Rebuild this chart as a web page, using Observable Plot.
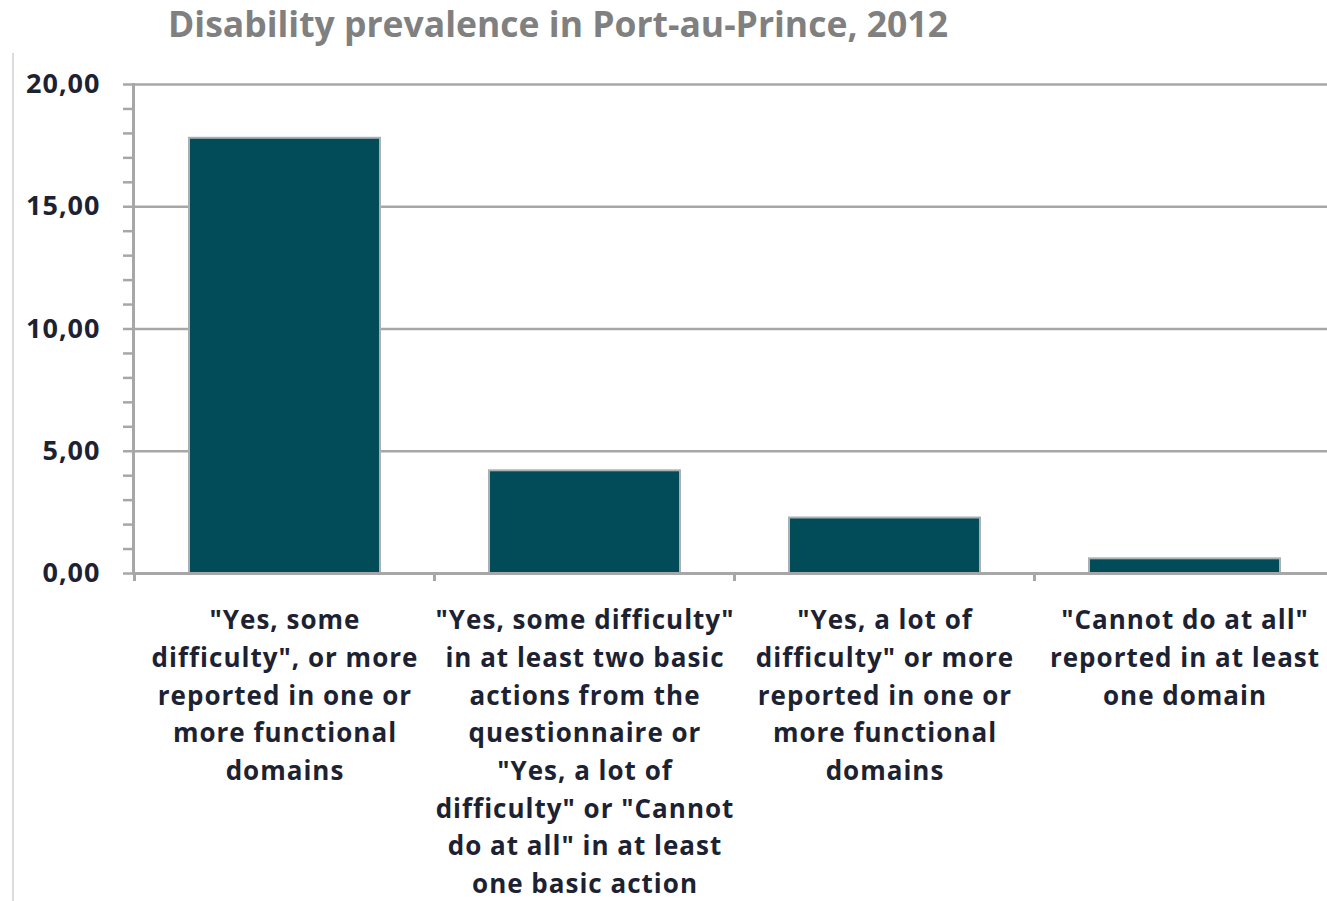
<!DOCTYPE html>
<html>
<head>
<meta charset="utf-8">
<script src="https://cdn.jsdelivr.net/npm/d3@7"></script>
<script src="https://cdn.jsdelivr.net/npm/@observablehq/plot@0.6"></script>
<style>
  html, body { margin: 0; padding: 0; background: #fff; overflow: hidden; }
  #wrap { position: relative; width: 1327px; height: 901px; }
  #title { position: absolute; left: 0; top: 0; width: 1116px; height: 55px; text-align: center;
           font-family: "Open Sans", sans-serif; font-weight: 700; font-size: 35.5px; color: #808080; line-height: 46px; white-space: nowrap; }
  #leftline { position: absolute; left: 12px; top: 53px; width: 2px; height: 848px; background: #dcdcdc; }
  #chart { position: absolute; left: 0; top: 55px; }
</style>
</head>
<body>
<div id="wrap">
  <div id="title">Disability prevalence in Port-au-Prince, 2012</div>
  <div id="leftline"></div>
  <div id="chart"></div>
</div>
<script>
// Category labels (line-broken as in the original)
const categoryLines = [
  ["\"Yes, some", "difficulty\", or more", "reported in one or", "more functional", "domains"],
  ["\"Yes, some difficulty\"", "in at least two basic", "actions from the", "questionnaire or", "\"Yes, a lot of", "difficulty\" or \"Cannot", "do at all\" in at least", "one basic action"],
  ["\"Yes, a lot of", "difficulty\" or more", "reported in one or", "more functional", "domains"],
  ["\"Cannot do at all\"", "reported in at least", "one domain"]
];
const categories = categoryLines.map(l => l.join(" "));
const prevalence = [17.8, 4.2, 2.27, 0.6];
const yTicks = [0, 5, 10, 15, 20];
const yTickLabels = ["0,00", "5,00", "10,00", "15,00", "20,00"];
const yMinorTicks = d3.range(0, 21, 1);

const data = categories.map((c, i) => ({category: c, value: prevalence[i]}));
const labelOf = new Map(categories.map((c, i) => [c, categoryLines[i].join("\n")]));
const yLabelOf = new Map(yTicks.map((t, i) => [t, yTickLabels[i]]));

const W = 1327, H = 846;
const grey = "#a7a7a7";
const ink = "#1d2232";

const chart = Plot.plot({
  width: W,
  height: H,
  marginLeft: 133,
  marginRight: 0,
  marginTop: 29,
  marginBottom: 328,
  style: {fontFamily: "'Open Sans', sans-serif", background: "transparent", overflow: "visible"},
  x: {domain: categories, range: [133, 1336], paddingInner: 0.365, paddingOuter: 0.1825, label: null},
  y: {domain: [0, 20], label: null},
  marks: [
    Plot.ruleY(yTicks, {stroke: grey, strokeWidth: 2.5}),
    Plot.barY(data, {x: "category", y: "value", fill: "#014c58", stroke: "#a9b0b2", strokeWidth: 2}),
    Plot.frame({anchor: "left", stroke: grey, strokeWidth: 3}),
    Plot.ruleY([0], {stroke: grey, strokeWidth: 3}),
    Plot.axisY({ticks: yMinorTicks, tickSize: 10, text: null, stroke: grey, strokeWidth: 2.5, label: null}),
    Plot.axisY({ticks: yTicks, tickSize: 0, tickPadding: 33, tickFormat: d => yLabelOf.get(d),
                fontSize: 27, fontWeight: 700, fontFamily: "'Open Sans', sans-serif", fill: ink, label: null}),
    Plot.axisX({tickSize: 0, tickPadding: 29, tickFormat: d => labelOf.get(d),
                fontSize: 26, fontWeight: 700, fontFamily: "'Open Sans', sans-serif", fill: ink, lineHeight: 1.45, label: null})
  ]
});

const svg = d3.select(chart.tagName === "svg" ? chart : chart.querySelector("svg"));
svg.selectAll("text").style("letter-spacing", "1px");

// boundary ticks on the category axis, from the band scale's own step
const xs = chart.scale("x");
const y0 = chart.scale("y").apply(0);
const g = svg.append("g").attr("stroke", grey).attr("stroke-width", 3);
categories.forEach(c => {
  const left = xs.apply(c) - (xs.step - xs.bandwidth) / 2;
  g.append("line").attr("x1", left).attr("x2", left).attr("y1", y0).attr("y2", y0 + 8);
});

document.getElementById("chart").appendChild(chart);
</script>
</body>
</html>
